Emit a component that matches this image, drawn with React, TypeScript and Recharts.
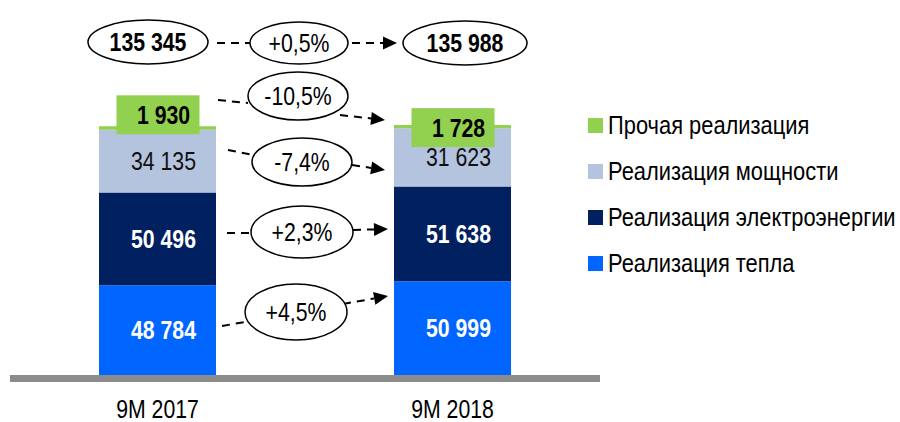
import { BarChart, Bar, XAxis, YAxis, LabelList, ReferenceArea, Customized } from 'recharts';

const categories = ['9M 2017', '9M 2018'];
const heat = [48784, 50999];
const electricity = [50496, 51638];
const capacity = [34135, 31623];
const other = [1930, 1728];
const totals = [135345, 135988];
const totalChange = '+0,5%';
const heatChange = '+4,5%';
const electricityChange = '+2,3%';
const capacityChange = '-7,4%';
const otherChange = '-10,5%';

// no narrow font installed, so Arial-metric text gets squeezed horizontally
const FONT = "'Liberation Sans', Arial, sans-serif";
const FS = 25;
const SQUEEZE = 0.85;
const LEGEND_SQUEEZE = 0.875;

const COLORS = {
  other: '#92D050',
  capacity: '#B4C3DE',
  electricity: '#002060',
  heat: '#0066FF',
  axis: '#8C8C8C',
};

const series = [
  { key: 'other', name: 'Прочая реализация', color: COLORS.other },
  { key: 'capacity', name: 'Реализация мощности', color: COLORS.capacity },
  { key: 'electricity', name: 'Реализация электроэнергии', color: COLORS.electricity },
  { key: 'heat', name: 'Реализация тепла', color: COLORS.heat },
];

const chartData = categories.map((name, i) => ({
  name,
  heat: heat[i],
  electricity: electricity[i],
  capacity: capacity[i],
  other: other[i],
}));

const fmt = (n: number) => String(n).replace(/\B(?=(\d{3})+(?!\d))/g, ' ');

const NarrowText = ({ x, y, bold, fill, children }: any) => (
  <text
    transform={`translate(${x},${y}) scale(${SQUEEZE},1)`}
    x={0}
    y={0}
    textAnchor="middle"
    fontFamily={FONT}
    fontSize={FS}
    fontWeight={bold ? 'bold' : 'normal'}
    fill={fill || '#000'}
  >
    {children}
  </text>
);

// in-bar value label, centred in the segment
const segmentLabel = (fill: string, bold: boolean) => (props: any) => {
  const { x, y, width, height, value } = props;
  return (
    <NarrowText x={x + width / 2 + 6} y={y + height / 2 + FS * 0.36} bold={bold} fill={fill}>
      {fmt(value)}
    </NarrowText>
  );
};

// green boxes sit on top of the thin "other" segment, nudged per column
const otherBoxDy = [-11.5, 2.5];
const OtherLabel = (props: any) => {
  const { x, y, width, value, index } = props;
  const cx = x + width / 2;
  const cy = y + otherBoxDy[index];
  return (
    <g>
      <rect x={cx - 41} y={cy - 19.5} width={83} height={39} fill={COLORS.other} />
      <NarrowText x={cx + 6} y={cy + FS * 0.36} bold>
        {fmt(value)}
      </NarrowText>
    </g>
  );
};

const CategoryTick = (props: any) => {
  const { x, y, payload } = props;
  return (
    <NarrowText x={x} y={y + 35.5}>
      {payload.value}
    </NarrowText>
  );
};

// annotation layout: ellipse [cx, cy, rx, ry], dashed line in, dashed arrow out
const changeRows = [
  { text: totalChange, e: [299, 43, 49, 21], a: [[217, 43], [250, 43]], b: [[352, 43], [397, 43]] },
  { text: otherChange, e: [298, 96, 50, 24], a: [[218, 100], [248, 103]], b: [[340, 115], [385, 120]] },
  { text: capacityChange, e: [302, 162, 50, 24], a: [[228, 150], [253, 155]], b: [[352, 165], [385, 170]] },
  { text: electricityChange, e: [302, 232, 51, 26], a: [[227, 233], [252, 233]], b: [[353, 230], [388, 229]] },
  { text: heatChange, e: [296, 312, 51, 28], a: [[222, 326], [245, 322]], b: [[343, 304], [388, 296]] },
];
const totalEllipses = [
  [148, 42, 60, 22],
  [465, 43, 62, 22],
];

const Arrow = ({ from, to }: { from: number[]; to: number[] }) => {
  const dx = to[0] - from[0];
  const dy = to[1] - from[1];
  const len = Math.hypot(dx, dy);
  const ux = dx / len;
  const uy = dy / len;
  const bx = to[0] - ux * 14;
  const by = to[1] - uy * 14;
  const nx = -uy * 6.5;
  const ny = ux * 6.5;
  return (
    <g>
      <line x1={from[0]} y1={from[1]} x2={bx} y2={by} stroke="#000" strokeWidth={2} strokeDasharray="8 6" />
      <polygon points={`${to[0]},${to[1]} ${bx + nx},${by + ny} ${bx - nx},${by - ny}`} fill="#000" />
    </g>
  );
};

const Annotations = () => (
  <g>
    {totalEllipses.map((e, i) => (
      <g key={`t-${i}`}>
        <ellipse cx={e[0]} cy={e[1]} rx={e[2]} ry={e[3]} fill="#fff" stroke="#000" strokeWidth={1.5} />
        <NarrowText x={e[0]} y={e[1] + FS * 0.36} bold>
          {fmt(totals[i])}
        </NarrowText>
      </g>
    ))}
    {changeRows.map((r, i) => (
      <g key={`c-${i}`}>
        <line
          x1={r.a[0][0]}
          y1={r.a[0][1]}
          x2={r.a[1][0]}
          y2={r.a[1][1]}
          stroke="#000"
          strokeWidth={2}
          strokeDasharray="8 6"
        />
        <Arrow from={r.b[0]} to={r.b[1]} />
        <ellipse cx={r.e[0]} cy={r.e[1]} rx={r.e[2]} ry={r.e[3]} fill="#fff" stroke="#000" strokeWidth={1.5} />
        <NarrowText x={r.e[0]} y={r.e[1] + FS * 0.36}>
          {r.text}
        </NarrowText>
      </g>
    ))}
  </g>
);

export default function App() {
  return (
    <div style={{ position: 'absolute', left: 0, top: 0, width: 900, height: 422, background: '#fff' }}>
      <BarChart
        width={900}
        height={422}
        data={chartData}
        margin={{ top: 81, right: 300, left: 10, bottom: 10 }}
      >
        <XAxis
          dataKey="name"
          axisLine={false}
          tickLine={false}
          tickSize={0}
          tickMargin={0}
          height={30}
          interval={0}
          tick={<CategoryTick />}
        />
        <YAxis hide type="number" domain={[-3800, 160000]} allowDataOverflow />
        <ReferenceArea y1={-3800} y2={0} fill={COLORS.axis} fillOpacity={1} stroke="none" />
        <Bar dataKey="heat" stackId="a" fill={COLORS.heat} barSize={117} isAnimationActive={false}>
          <LabelList dataKey="heat" content={segmentLabel('#fff', true)} />
        </Bar>
        <Bar dataKey="electricity" stackId="a" fill={COLORS.electricity} barSize={117} isAnimationActive={false}>
          <LabelList dataKey="electricity" content={segmentLabel('#fff', true)} />
        </Bar>
        <Bar dataKey="capacity" stackId="a" fill={COLORS.capacity} barSize={117} isAnimationActive={false}>
          <LabelList dataKey="capacity" content={segmentLabel('#111', false)} />
        </Bar>
        <Bar dataKey="other" stackId="a" fill={COLORS.other} barSize={117} isAnimationActive={false}>
          <LabelList dataKey="other" content={<OtherLabel />} />
        </Bar>
        <Customized component={Annotations} />
      </BarChart>

      {/* legend */}
      <div style={{ position: 'absolute', left: 588, top: 102, fontFamily: FONT, fontSize: 25, color: '#000' }}>
        {series.map((s) => (
          <div key={s.key} style={{ display: 'flex', alignItems: 'center', height: 46 }}>
            <span style={{ width: 15, height: 15, background: s.color, marginRight: 5, flexShrink: 0 }} />
            <span
              style={{
                whiteSpace: 'nowrap',
                display: 'inline-block',
                transform: `scaleX(${LEGEND_SQUEEZE})`,
                transformOrigin: 'left center',
              }}
            >
              {s.name}
            </span>
          </div>
        ))}
      </div>
    </div>
  );
}
